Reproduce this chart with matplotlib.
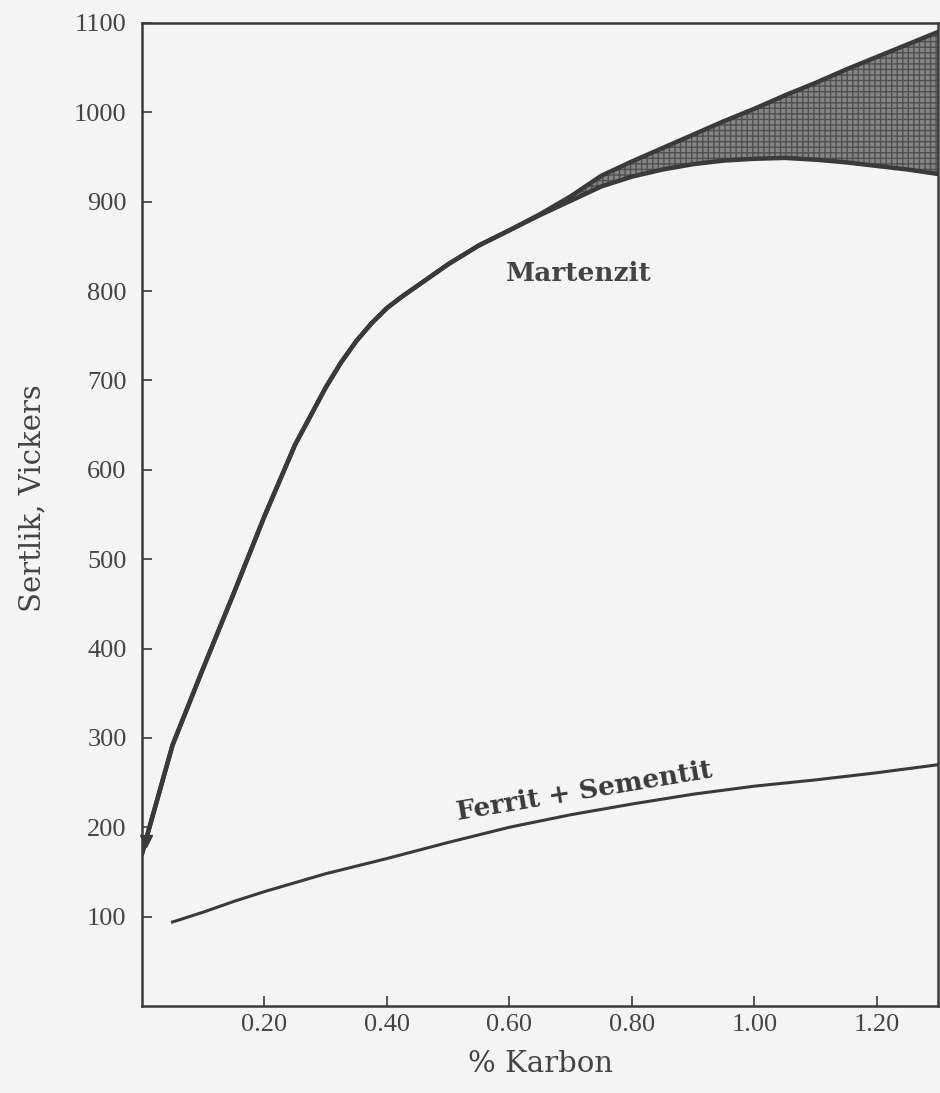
import numpy as np
import matplotlib
matplotlib.use("Agg")
import matplotlib.pyplot as plt

# ---- data ----
mart_x = [0.00, 0.05, 0.10, 0.15, 0.20, 0.25, 0.30, 0.325, 0.35, 0.375, 0.40,
          0.425, 0.45, 0.50, 0.55, 0.60, 0.65, 0.70, 0.75, 0.80, 0.85, 0.90,
          0.95, 1.00, 1.05, 1.10, 1.15, 1.20, 1.25, 1.30]
mart_upper = [170, 292, 378, 462, 548, 628, 692, 720, 744, 764, 781,
              794, 806, 830, 851, 868, 886, 906, 929, 945, 960, 975,
              990, 1004, 1019, 1033, 1048, 1062, 1076, 1090]
mart_lower = [170, 292, 378, 462, 548, 628, 692, 720, 744, 764, 781,
              794, 806, 830, 851, 868, 885, 901, 917, 928, 936, 942,
              946, 948, 949, 947, 944, 940, 936, 931]

fs_x = [0.05, 0.10, 0.15, 0.20, 0.30, 0.40, 0.50, 0.60, 0.70, 0.80, 0.90,
        1.00, 1.10, 1.20, 1.30]
fs_y = [94, 105, 117, 128, 148, 165, 183, 200, 214, 226, 237,
        246, 253, 261, 270]

x_ticks = [0.20, 0.40, 0.60, 0.80, 1.00, 1.20]
x_ticklabels = ["0.20", "0.40", "0.60", "0.80", "1.00", "1.20"]
y_ticks = [100, 200, 300, 400, 500, 600, 700, 800, 900, 1000, 1100]
y_ticklabels = [str(v) for v in y_ticks]

x_label = "% Karbon"
y_label = "Sertlik, Vickers"
label_mart = "Martenzit"
label_fs = "Ferrit + Sementit"

# ---- styling ----
bg = "#f4f4f4"
ink = "#3a3a3a"
serif = ["Liberation Serif", "DejaVu Serif"]
wide_serif = ["DejaVu Serif"]

fig = plt.figure(figsize=(9.4, 10.93), dpi=100, facecolor=bg)
ax = fig.add_axes([0.151, 0.0796, 0.847, 0.8994], facecolor=bg)

# shaded band between upper and lower martensite curves
ax.fill_between(mart_x, mart_lower, mart_upper,
                where=[u - l > 0.5 for u, l in zip(mart_upper, mart_lower)],
                interpolate=True, facecolor="#858585", edgecolor="#505050",
                hatch="+++", linewidth=0)
ax.plot(mart_x, mart_upper, color=ink, lw=3.2, solid_capstyle="round",
        solid_joinstyle="round")
ax.plot(mart_x, mart_lower, color=ink, lw=3.2, solid_capstyle="round",
        solid_joinstyle="round")
ax.plot([mart_x[0] + 0.006], [mart_upper[0] + 15], marker="v", ms=9,
        color=ink, clip_on=False)

ax.plot(fs_x, fs_y, color=ink, lw=2.2, solid_joinstyle="round")

ax.set_xlim(0, 1.30)
ax.set_ylim(0, 1100)
ax.set_xticks(x_ticks)
ax.set_xticklabels(x_ticklabels, fontfamily=serif, fontsize=19, color="#444")
ax.set_yticks(y_ticks)
ax.set_yticklabels(y_ticklabels, fontfamily=serif, fontsize=19, color="#444")
ax.tick_params(direction="in", length=7, width=1.2, color=ink)
ax.tick_params(axis="x", pad=6)
ax.tick_params(axis="y", pad=11)

for s in ax.spines.values():
    s.set_color(ink)
    s.set_linewidth(1.8)

ax.set_xlabel(x_label, fontfamily=wide_serif, fontsize=21, color="#444",
              labelpad=10)
ax.set_ylabel(y_label, fontfamily=wide_serif, fontsize=21, color="#444")
ax.yaxis.label.set_va("center")
ax.yaxis.set_label_coords(-0.137, 0.517)

ax.text(0.714, 820, label_mart, fontfamily=wide_serif, fontsize=19,
        fontweight="bold", color="#444", ha="center", va="center")
ax.text(0.723, 240, label_fs, fontfamily=wide_serif, fontsize=19,
        fontweight="bold", color="#3a3a3a", ha="center", va="center",
        rotation=9.5, rotation_mode="anchor")

fig.savefig("out.png", dpi=100, facecolor=bg)
